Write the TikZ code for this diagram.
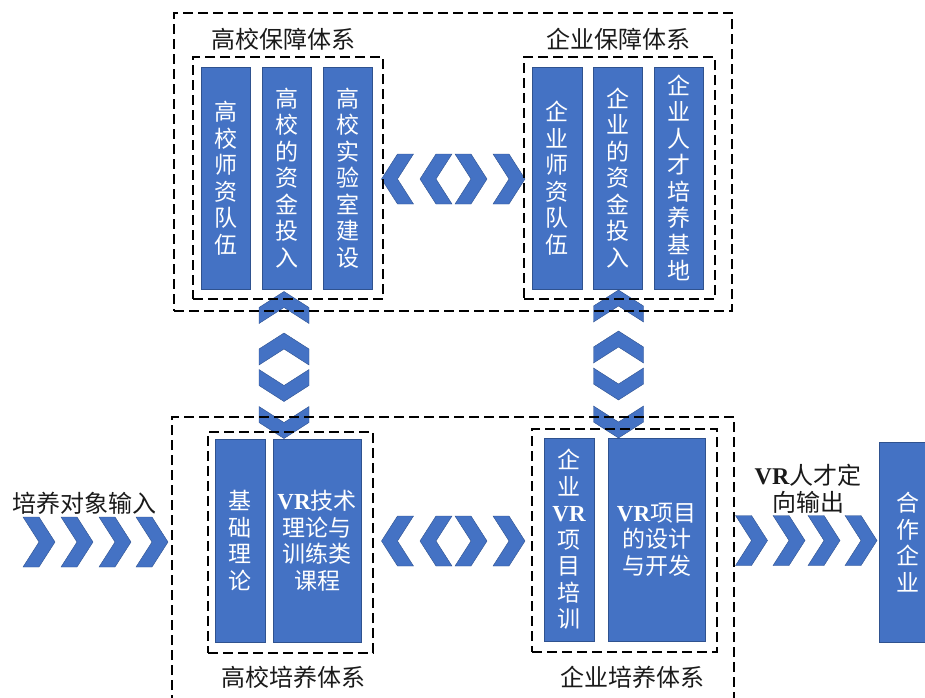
\documentclass[tikz,border=0pt]{standalone}
\usepackage{fontspec}
\setmainfont{Noto Sans CJK SC}
\newfontfamily\vrf{Liberation Serif}
\newcommand\VRtxt{{\vrf\bfseries VR}}
\definecolor{boxblue}{HTML}{4472C4}
\definecolor{boxedge}{HTML}{2F528F}
\definecolor{inkgrey}{HTML}{1A1A1A}
\tikzset{
  box/.style={draw=boxedge, fill=boxblue, line width=0.6pt, text=white,
    font=\fontsize{23}{26.5}\selectfont, align=center, inner sep=0pt},
  dashbox/.style={draw=black, line width=1.8pt, dash pattern=on 10pt off 5pt},
  caption/.style={text=inkgrey, font=\fontsize{24}{27}\selectfont, align=center, inner sep=0pt},
  chevpiece/.style={fill=boxblue, draw=boxedge, line width=0.4pt, line join=miter},
  chev/.pic={\path[chevpiece] (-16,-25) -- (0,-25) -- (16,0) -- (0,25) -- (-16,25) -- (0,0) -- cycle;}
}
\begin{document}
\begin{tikzpicture}[x=1pt, y=-1pt]
\useasboundingbox (0,0) rectangle (925,697);
\clip (0,0) rectangle (925,697);

% flow chevrons between the blocks
\foreach \cx in {397.5,436} {\pic[rotate=180] at (\cx,179) {chev};}
\foreach \cx in {471,509} {\pic at (\cx,179) {chev};}
\foreach \cx in {397.5,436} {\pic[rotate=180] at (\cx,541) {chev};}
\foreach \cx in {471,509} {\pic at (\cx,541) {chev};}
\foreach \cy in {307.5,349} {\pic[rotate=90] at (284,\cy) {chev};}
\foreach \cy in {385.5,422.5} {\pic[rotate=-90] at (284,\cy) {chev};}
\foreach \cy in {306,347} {\pic[rotate=90] at (618.5,\cy) {chev};}
\foreach \cy in {384,422} {\pic[rotate=-90] at (618.5,\cy) {chev};}
\foreach \cx in {39,77,115,152} {\pic at (\cx,542) {chev};}
\foreach \cx in {751.5,789,824,861} {\pic at (\cx,540.5) {chev};}

% university support system
\node[box, minimum width=49pt, minimum height=222pt] (gA1) at (225.5,178) {高\\校\\师\\资\\队\\伍};
\node[box, minimum width=49pt, minimum height=222pt] (gA2) at (286.5,178) {高\\校\\的\\资\\金\\投\\入};
\node[box, minimum width=49pt, minimum height=222pt] (gA3) at (347.5,178) {高\\校\\实\\验\\室\\建\\设};
% enterprise support system
\node[box, minimum width=50pt, minimum height=222pt] (qA1) at (557,178) {企\\业\\师\\资\\队\\伍};
\node[box, minimum width=49pt, minimum height=222pt] (qA2) at (617.5,178) {企\\业\\的\\资\\金\\投\\入};
\node[box, minimum width=49pt, minimum height=222pt] (qA3) at (678.5,178) {企\\业\\人\\才\\培\\养\\基\\地};

% university training system
\node[box, minimum width=50pt, minimum height=203pt] (jc) at (240,540.5) {基\\础\\理\\论};
\node[box, minimum width=88pt, minimum height=203pt] (vrkc) at (317,540.5) {\VRtxt 技术\\理论与\\训练类\\课程};
% enterprise training system
\node[box, minimum width=50pt, minimum height=203pt] (qpx) at (569,539.5) {企\\业\\\VRtxt\\项\\目\\培\\训};
\node[box, minimum width=97pt, minimum height=203pt] (vrxm) at (656.5,539.5) {\VRtxt 项目\\的设计\\与开发};

% partner enterprise
\node[box, minimum width=58pt, minimum height=200pt] (hz) at (908,542) {合\\作\\企\\业};

% captions
\node[caption] (gT) at (283,39) {高校保障体系};
\node[caption] (qT) at (618,39) {企业保障体系};
\node[caption] (gB) at (293,677) {高校培养体系};
\node[caption] (qB) at (632,677) {企业培养体系};
\node[caption] (inL) at (84.5,503) {培养对象输入};
\node[caption] (outL) at (808,489) {\VRtxt 人才定\\向输出};

% dashed frames
\node[dashbox, minimum width=190pt, minimum height=242pt] (gIn) at (288,178) {};
\node[dashbox, minimum width=191pt, minimum height=242pt] (qIn) at (619.5,178) {};
\node[dashbox, minimum width=558pt, minimum height=298pt] (topOut) at (453,162) {};
\node[dashbox, minimum width=165pt, minimum height=221pt] (gTr) at (290.5,542.5) {};
\node[dashbox, minimum width=185pt, minimum height=223pt] (qTr) at (624.5,540.5) {};
\coordinate (botBL) at (172,720);
\coordinate (botTL) at (172,417);
\coordinate (botTR) at (734,417);
\coordinate (botBR) at (734,720);
\draw[dashbox] (botBL) -- (botTL) -- (botTR) -- (botBR);
\end{tikzpicture}
\end{document}
